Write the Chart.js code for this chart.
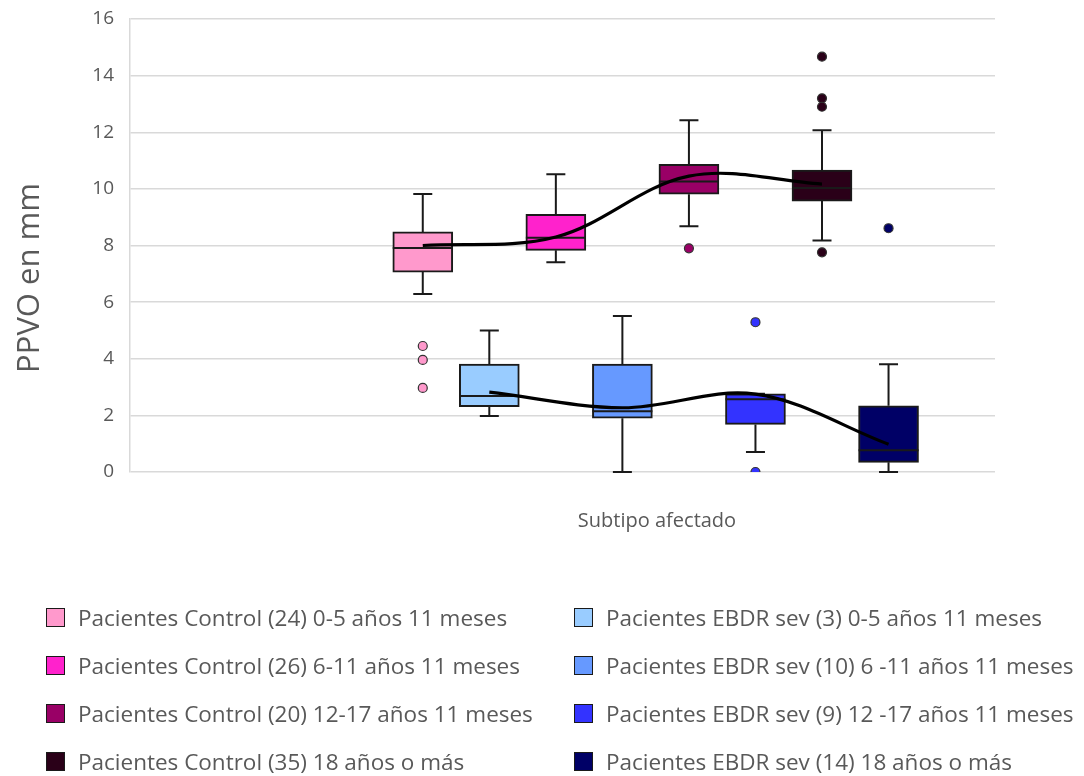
<!DOCTYPE html>
<html>
<head>
<meta charset="utf-8">
<script src="https://cdn.jsdelivr.net/npm/chart.js@4.4.1/dist/chart.umd.min.js"></script>
<style>
  body { margin: 0; background: #fff; }
  #wrap { position: relative; width: 1084px; height: 776px; }
  #legend {
    position: absolute; left: 46px; top: 604px;
    display: grid; grid-template-columns: 528px auto; grid-auto-rows: 48px;
    font-family: "Open Sans", sans-serif; font-size: 22.5px; color: #595959;
  }
  #legend .item { display: flex; align-items: center; height: 26px; white-space: nowrap; }
  #legend .sw { width: 17px; height: 17px; border: 1.5px solid #1a1a1a; margin-right: 13px; }
</style>
</head>
<body>
<div id="wrap">
  <canvas id="boxChart"></canvas>
  <div id="legend"></div>
</div>
<script>
// boxes left to right (control / EBDR alternate)
const boxLabels = [
  'Pacientes Control (24) 0-5 años 11 meses',
  'Pacientes EBDR sev (3) 0-5 años 11 meses',
  'Pacientes Control (26) 6-11 años 11 meses',
  'Pacientes EBDR sev (10) 6 -11 años 11 meses',
  'Pacientes Control (20) 12-17 años 11 meses',
  'Pacientes EBDR sev (9) 12 -17 años 11 meses',
  'Pacientes Control (35) 18 años o más',
  'Pacientes EBDR sev (14) 18 años o más'
];
const boxColors = ['#FF99CC', '#99CCFF', '#FF22CC', '#6699FF', '#990066', '#3333FF', '#2A0018', '#000066'];

const whiskerLow  = [6.29, 1.98, 7.41, 0.00, 8.68, 0.71, 8.18, 0.00];
const q1          = [7.06, 2.31, 7.83, 1.90, 9.81, 1.68, 9.57, 0.34];
const median      = [7.91, 2.68, 8.27, 2.15, 10.26, 2.57, 10.03, 0.77];
const q3          = [8.48, 3.81, 9.10, 3.81, 10.87, 2.76, 10.66, 2.34];
const whiskerHigh = [9.82, 5.00, 10.52, 5.51, 12.42, 2.76, 12.07, 3.81];
const means       = [8.00, 2.82, 8.30, 2.27, 10.45, 2.75, 10.17, 0.98];
const outliers = [
  [4.45, 3.96, 2.97], [], [], [], [7.90], [5.29, 0], [14.67, 13.2, 12.9, 7.76], [8.61]
];
const yTicks = [0, 2, 4, 6, 8, 10, 12, 14, 16];

// legend
const legend = document.getElementById('legend');
boxLabels.forEach((lab, i) => {
  const it = document.createElement('div');
  it.className = 'item';
  it.innerHTML = '<span class="sw" style="background:' + boxColors[i] + '"></span>' + lab;
  legend.appendChild(it);
});

const controlIdx = [0, 2, 4, 6];
const ebdrIdx = [1, 3, 5, 7];

// whiskers + medians + axis titles, drawn from the scales
const boxParts = {
  id: 'boxParts',
  beforeDatasetsDraw(chart) {
    const { ctx, scales: { x, y } } = chart;
    ctx.save();
    ctx.strokeStyle = '#1a1a1a';
    ctx.lineWidth = 2;
    boxLabels.forEach((_, i) => {
      const px = x.getPixelForValue(i);
      const cap = 9.5;
      ctx.beginPath();
      ctx.moveTo(px, y.getPixelForValue(whiskerLow[i]));
      ctx.lineTo(px, y.getPixelForValue(q1[i]));
      ctx.moveTo(px, y.getPixelForValue(q3[i]));
      ctx.lineTo(px, y.getPixelForValue(whiskerHigh[i]));
      ctx.moveTo(px - cap, y.getPixelForValue(whiskerLow[i]));
      ctx.lineTo(px + cap, y.getPixelForValue(whiskerLow[i]));
      ctx.moveTo(px - cap, y.getPixelForValue(whiskerHigh[i]));
      ctx.lineTo(px + cap, y.getPixelForValue(whiskerHigh[i]));
      ctx.stroke();
    });
    ctx.restore();
  },
  afterDatasetDraw(chart, args) {
    if (args.meta.type !== 'bar') return;
    const { ctx, scales: { x, y } } = chart;
    ctx.save();
    ctx.strokeStyle = '#1a1a1a';
    ctx.lineWidth = 2;
    median.forEach((m, i) => {
      const px = x.getPixelForValue(i);
      const py = y.getPixelForValue(m);
      ctx.beginPath();
      ctx.moveTo(px - 30, py);
      ctx.lineTo(px + 30, py);
      ctx.stroke();
    });
    ctx.restore();
  },
  afterDraw(chart) {
    const ctx = chart.ctx;
    ctx.save();
    ctx.fillStyle = '#595959';
    ctx.textAlign = 'center';
    ctx.textBaseline = 'middle';
    ctx.font = '20px "Open Sans"';
    ctx.fillText('Subtipo afectado', 657, 521);
    ctx.translate(30, 278);
    ctx.rotate(-Math.PI / 2);
    ctx.font = '31px "Open Sans"';
    ctx.fillText('PPVO en mm', 0, 0);
    ctx.restore();
  }
};

const outlierSets = [];
outliers.forEach((vals, i) => {
  if (!vals.length) return;
  outlierSets.push({
    type: 'scatter',
    data: vals.map(v => ({ x: i, y: v })),
    backgroundColor: boxColors[i],
    borderColor: '#333',
    borderWidth: 1.2,
    pointRadius: 4.5,
    order: 1
  });
});

const meanLine = idx => ({
  type: 'line',
  data: idx.map(i => ({ x: i, y: means[i] })),
  borderColor: '#000',
  borderWidth: 3.2,
  pointRadius: 0,
  tension: 0.35,
  fill: false,
  order: 0
});

new Chart(document.getElementById('boxChart'), {
  data: {
    datasets: [
      meanLine(controlIdx),
      meanLine(ebdrIdx),
      ...outlierSets,
      {
        type: 'bar',
        data: boxLabels.map((_, i) => ({ x: i, y: [q1[i], q3[i]] })),
        backgroundColor: boxColors,
        borderColor: '#1a1a1a',
        borderWidth: 2,
        borderSkipped: false,
        barThickness: 60,
        grouped: false,
        order: 3
      }
    ]
  },
  options: {
    responsive: true,
    maintainAspectRatio: false,
    animation: false,
    layout: { padding: { left: 0, top: 19, right: 89, bottom: 304 } },
    plugins: { legend: { display: false }, tooltip: { enabled: false } },
    scales: {
      x: { type: 'linear', min: -4.4, max: 8.6, offset: false, display: false },
      y: {
        min: 0, max: 16,
        afterBuildTicks: s => { s.ticks = yTicks.map(v => ({ value: v })); },
        afterFit: s => { s.width = 130; s.paddingTop = 0; s.paddingBottom = 0; },
        ticks: { color: '#595959', font: { family: 'Open Sans', size: 19 }, padding: 16 },
        grid: { color: '#d9d9d9', lineWidth: 1.5, drawTicks: false },
        border: { color: '#d9d9d9', width: 1.5 }
      }
    }
  },
  plugins: [boxParts]
});
</script>
</body>
</html>
